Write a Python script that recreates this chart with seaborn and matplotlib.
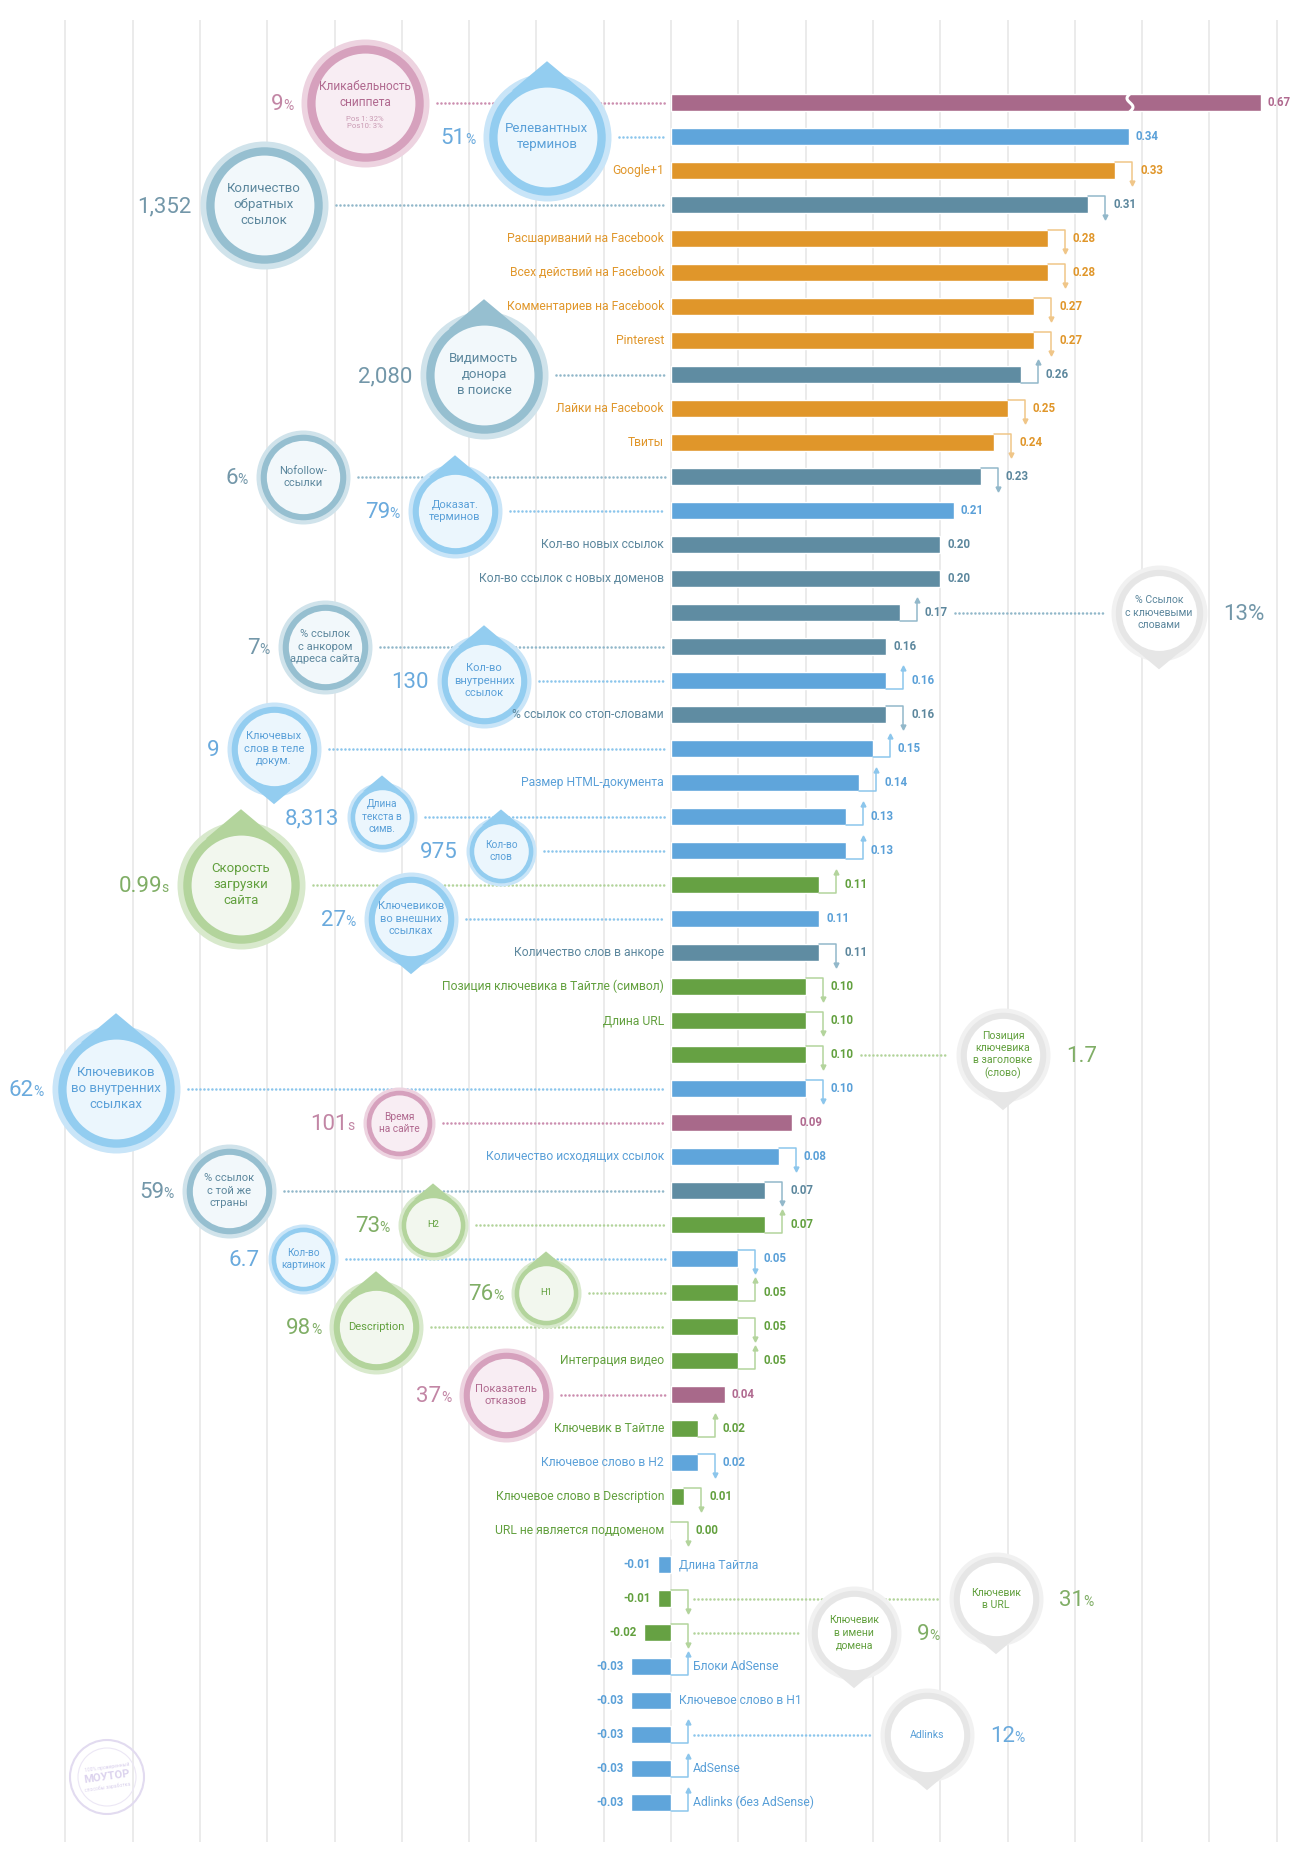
import numpy as np
import pandas as pd
import matplotlib.pyplot as plt
from matplotlib.patches import Polygon
import seaborn as sns

# ---------------- data ----------------
values = [0.67, 0.34, 0.33, 0.31, 0.28, 0.28, 0.27, 0.27, 0.26, 0.25,
          0.24, 0.23, 0.21, 0.20, 0.20, 0.17, 0.16, 0.16, 0.16, 0.15,
          0.14, 0.13, 0.13, 0.11, 0.11, 0.11, 0.10, 0.10, 0.10, 0.10,
          0.09, 0.08, 0.07, 0.07, 0.05, 0.05, 0.05, 0.05, 0.04, 0.02,
          0.02, 0.01, 0.00, -0.01, -0.01, -0.02, -0.03, -0.03, -0.03, -0.03,
          -0.03]
groups = ['mauve', 'blue', 'orange', 'slate', 'orange', 'orange', 'orange', 'orange', 'slate', 'orange',
          'orange', 'slate', 'blue', 'slate', 'slate', 'slate', 'slate', 'blue', 'slate', 'blue',
          'blue', 'blue', 'blue', 'green', 'blue', 'slate', 'green', 'green', 'green', 'blue',
          'mauve', 'blue', 'slate', 'green', 'blue', 'green', 'green', 'green', 'mauve', 'green',
          'blue', 'green', 'green', 'blue', 'green', 'green', 'blue', 'blue', 'blue', 'blue',
          'blue']
# trend vs. previous study: u = up, d = down, '' = none
trends = ['', '', 'd', 'd', 'd', 'd', 'd', 'd', 'u', 'd',
          'd', 'd', '', '', '', 'u', '', 'u', 'd', 'u',
          'u', 'u', 'u', 'u', '', 'd', 'd', 'd', 'd', 'd',
          '', 'd', 'd', 'u', 'd', 'u', 'd', 'u', '', 'u',
          'd', 'd', 'd', '', 'd', 'd', 'u', '', 'u', 'u',
          'u']
labels = ['', '', 'Google+1', '', 'Расшариваний на Facebook', 'Всех действий на Facebook',
          'Комментариев на Facebook', 'Pinterest', '', 'Лайки на Facebook',
          'Твиты', '', '', 'Кол-во новых ссылок', 'Кол-во ссылок с новых доменов',
          '', '', '', '% ссылок со стоп-словами', '',
          'Размер HTML-документа', '', '', '', '',
          'Количество слов в анкоре', 'Позиция ключевика в Тайтле (символ)', 'Длина URL', '', '',
          '', 'Количество исходящих ссылок', '', '', '',
          '', '', 'Интеграция видео', '', 'Ключевик в Тайтле',
          'Ключевое слово в H2', 'Ключевое слово в Description', 'URL не является поддоменом',
          'Длина Тайтла', '', '', 'Блоки AdSense', 'Ключевое слово в H1', '', 'AdSense',
          'Adlinks (без AdSense)']

bubble_rows = [0, 1, 3, 8, 11, 12, 16, 17, 19, 21, 22, 23, 24,
               29, 30, 32, 33, 34, 35, 36, 38, 15, 28, 44, 45, 48]
bubble_texts = ['Кликабельность\nсниппета', 'Релевантных\nтерминов', 'Количество\nобратных\nссылок',
                'Видимость\nдонора\nв поиске', 'Nofollow-\nссылки', 'Доказат.\nтерминов',
                '% ссылок\nс анкором\nадреса сайта', 'Кол-во\nвнутренних\nссылок',
                'Ключевых\nслов в теле\nдокум.', 'Длина\nтекста в\nсимв.', 'Кол-во\nслов',
                'Скорость\nзагрузки\nсайта', 'Ключевиков\nво внешних\nссылках',
                'Ключевиков\nво внутренних\nссылках', 'Время\nна сайте', '% ссылок\nс той же\nстраны',
                'H2', 'Кол-во\nкартинок', 'H1', 'Description', 'Показатель\nотказов',
                '% Ссылок\nс ключевыми\nсловами', 'Позиция\nключевика\nв заголовке\n(слово)',
                'Ключевик\nв URL', 'Ключевик\nв имени\nдомена', 'Adlinks']
bubble_nums = ['9', '51', '1,352', '2,080', '6', '79', '7', '130', '9', '8,313', '975', '0.99', '27',
               '62', '101', '59', '73', '6.7', '76', '98', '37', '13%', '1.7', '31', '9', '12']
bubble_units = ['%', '%', '', '', '%', '%', '%', '', '', '', '', 's', '%',
                '%', 's', '%', '%', '', '%', '%', '%', '', '', '%', '%', '%']
snippet_note = 'Pos 1: 32%\nPos10: 3%'

# ---------------- layout (pixels on the 1312x1852 canvas) ----------------
bubble_x = [365, 547, 264, 484, 303, 455, 325, 484, 274, 382, 501, 241, 411,
            116, 399, 229, 433, 303, 546, 376, 506, 1159, 1003, 996, 854, 927]
bubble_r = [64, 64, 64, 64, 47, 47, 47, 47, 47, 35, 35, 64, 47,
            64, 36, 47, 35, 35, 35, 47, 47, 48, 47, 47, 47, 47]
bubble_tip = ['', 'up', '', 'up', '', 'up', '', 'up', 'down', 'up', 'up', 'up', 'down',
              'up', '', '', 'up', '', 'up', 'up', '', 'down', 'down', 'down', 'down', 'down']
bubble_style = ['mauve', 'blue', 'slate', 'slate', 'slate', 'blue', 'slate', 'blue', 'blue', 'blue',
                'blue', 'green', 'blue', 'blue', 'mauve', 'slate', 'green', 'blue', 'green', 'green',
                'mauve', 'gray', 'gray', 'gray', 'gray', 'gray']

W, H = 1312, 1852
ZERO, UNIT, ROW0, ROWH = 671, 1346.0, 102.7, 34.0
BREAK_CAP, BREAK_AT = 0.438, 0.341

bar_col = {'mauve': '#A8698A', 'blue': '#5FA5DB', 'orange': '#E0962A',
           'slate': '#5F8CA2', 'green': '#66A143'}
txt_col = {'mauve': '#B0698F', 'blue': '#5AA0D8', 'orange': '#E0962A',
           'slate': '#5C879D', 'green': '#62A03E'}
lite_col = {'mauve': '#CC8FB0', 'blue': '#8CC6EC', 'orange': '#F0C688',
            'slate': '#92B8CA', 'green': '#B3D49C'}
num_col = {'mauve': '#C286A5', 'blue': '#6AAADD', 'slate': '#7397A9', 'green': '#80AE66'}
bub_col = {'mauve': ('#EDD3E0', '#D6A1BD', '#F8EDF3'),
           'blue': ('#C9E5F8', '#93CDF0', '#EBF6FD'),
           'slate': ('#D0E3EB', '#96BFD0', '#F2F8FB'),
           'green': ('#D8E9CC', '#B3D49C', '#F2F7EE'),
           'gray': ('#F1F1F1', '#E6E6E6', '#FFFFFF')}


def vx(p):
    return (p - ZERO) / UNIT


def pxv(v):
    return ZERO + v * UNIT


sns.set_theme(style='white')
plt.rcParams['font.family'] = ['Roboto', 'DejaVu Sans']

fig = plt.figure(figsize=(W / 100, H / 100), dpi=100)
ax = fig.add_axes([0, 0, 1, 1])

n = len(values)
df = pd.DataFrame({'row': np.arange(n), 'value': values, 'group': groups})
df['shown'] = df['value'].clip(upper=BREAK_CAP)

# grid
ax.vlines(np.round(np.arange(-0.45, 0.451, 0.05), 2), (20 - ROW0) / ROWH, (1842 - ROW0) / ROWH,
          color='#EBEBEB', lw=1.4, zorder=0)

sns.barplot(data=df, x='shown', y='row', hue='group', palette=bar_col, orient='h',
            dodge=False, width=0.5, errorbar=None, legend=False, saturation=1,
            ax=ax, zorder=2)

# axis break on the long bar
t = np.linspace(-0.3, 0.3, 25)
ax.plot(BREAK_AT + 3 / UNIT * np.sin(t * 12), t, color='white', lw=2.2, zorder=2.5)

# values, labels and trend brackets
for i, (v, g, tr, lab) in enumerate(zip(values, groups, trends, labels)):
    end = min(v, BREAK_CAP)
    base = max(end, 0)
    bx = base + 17 / UNIT
    lc = lite_col[g]
    if tr == 'd':
        y0, y1 = i - 0.25, i + 0.25 + 4 / ROWH
        ax.plot([base, bx, bx], [y0, y0, y1], color=lc, lw=1.1, zorder=2)
        ax.plot([bx], [y1], marker='v', ms=3.5, color=lc, zorder=2)
    elif tr == 'u':
        y0, y1 = i + 0.25, i - 0.25 - 4 / ROWH
        ax.plot([base, bx, bx], [y0, y0, y1], color=lc, lw=1.1, zorder=2)
        ax.plot([bx], [y1], marker='^', ms=3.5, color=lc, zorder=2)
    if v >= 0:
        ax.text(end + (25 if tr else 7) / UNIT, i, f'{v:.2f}', ha='left', va='center',
                fontsize=8.3, fontweight='bold', color=txt_col[g], zorder=5)
        if lab:
            ax.text(vx(664), i, lab, ha='right', va='center', fontsize=8.7,
                    color=txt_col[g], zorder=5)
    else:
        ax.text(end - 7 / UNIT, i, f'{v:.2f}', ha='right', va='center',
                fontsize=8.3, fontweight='bold', color=txt_col[g], zorder=5)
        if lab:
            ax.text((22 if tr else 8) / UNIT, i, lab, ha='left', va='center', fontsize=8.7,
                    color=txt_col[g], zorder=5)

# dotted connectors
for k, row in enumerate(bubble_rows):
    cx, r = bubble_x[k], bubble_r[k]
    v, tr = values[row], trends[row]
    if cx < ZERO:
        xs = [vx(cx + r + 8), vx(665)]
    else:
        start = ZERO + 23 if v < 0 else pxv(v) + (25 if tr else 7) + 30
        xs = [vx(start), vx(cx - r - 8)]
    ax.plot(xs, [row, row], color=lite_col[groups[row]], lw=1.9,
            ls=(0, (0.01, 1.5)), dash_capstyle='round', zorder=1)


def msize(rad):
    return (2 * rad * 0.72) ** 2


# bubbles
for k, row in enumerate(bubble_rows):
    cx, r, st = bubble_x[k], bubble_r[k], bubble_style[k]
    halo, ring, fill = bub_col[st]
    g = groups[row]
    x = vx(cx)
    ax.scatter([x], [row], s=msize(r), color=halo, lw=0, zorder=3)
    if bubble_tip[k]:
        sgn = -1 if bubble_tip[k] == 'up' else 1
        pts = [(vx(cx), row + sgn * 1.18 * r / ROWH),
               (vx(cx - 0.55 * r), row + sgn * 0.72 * r / ROWH),
               (vx(cx + 0.55 * r), row + sgn * 0.72 * r / ROWH)]
        ax.add_patch(Polygon(pts, closed=True, facecolor=ring, edgecolor='none', zorder=3))
    ax.scatter([x], [row], s=msize(0.91 * r), color=ring, lw=0, zorder=3)
    ax.scatter([x], [row], s=msize(0.78 * r), color=fill, lw=0, zorder=3)

    fs = 9.5 if r >= 60 else (8.0 if r >= 45 else 7.3)
    if st == 'gray':
        fs = 7.6
    if bubble_texts[k] in ('H1', 'H2'):
        fs = 6.8
    tc = txt_col[g]
    if k == 0:
        ax.text(x, row - 8 / ROWH, bubble_texts[k], ha='center', va='center', fontsize=8.6,
                color=tc, linespacing=1.3, zorder=4)
        ax.text(x, row + 20 / ROWH, snippet_note, ha='center', va='center', fontsize=5.6,
                color='#C99AB3', linespacing=1.2, zorder=4)
    else:
        ax.text(x, row, bubble_texts[k], ha='center', va='center', fontsize=fs,
                color=tc, linespacing=1.3, zorder=4)

    # big value next to the bubble
    nc = num_col[g]
    ybase = row + 7.5 / ROWH
    unit = bubble_units[k]
    if cx < ZERO:
        xr = cx - r - 8
        uw = {'%': 10, 's': 7, '': 0}[unit]
        if unit:
            ax.text(vx(xr), ybase, unit, ha='right', va='baseline', fontsize=10,
                    color=nc, zorder=4)
        ax.text(vx(xr - uw), ybase, bubble_nums[k], ha='right', va='baseline', fontsize=16,
                color=nc, zorder=4)
    else:
        num = ax.text(vx(cx + r + 16), ybase, bubble_nums[k], ha='left', va='baseline',
                      fontsize=16, color=nc, zorder=4)
        if unit:
            ax.annotate(unit, xy=(1, 0), xycoords=num, xytext=(-0.5, 1.5),
                        textcoords='offset points', ha='left', va='bottom', fontsize=10,
                        color=nc, zorder=4)

# faint stamp in the corner
sx, sy = vx(107), (1777 - ROW0) / ROWH
ax.scatter([sx], [sy], s=msize(37), facecolor='none', edgecolor='#E2DBF0', lw=1.5, zorder=1)
ax.scatter([sx], [sy], s=msize(29), facecolor='none', edgecolor='#ECE7F5', lw=0.8, zorder=1)
ax.text(sx, sy - 10 / ROWH, '100% проверенный', ha='center', va='center', fontsize=3.6,
        color='#D9D0EC', rotation=8, zorder=1)
ax.text(sx, sy, 'МОУТОР', ha='center', va='center', fontsize=8, fontweight='bold',
        color='#DCD3EE', rotation=8, zorder=1)
ax.text(sx, sy + 10 / ROWH, 'способы заработка', ha='center', va='center', fontsize=3.6,
        color='#D9D0EC', rotation=8, zorder=1)

ax.set_xlim(vx(0), vx(W))
ax.set_ylim((H - ROW0) / ROWH, -ROW0 / ROWH)
ax.axis('off')

fig.savefig('out.png', dpi=100, facecolor='white')
